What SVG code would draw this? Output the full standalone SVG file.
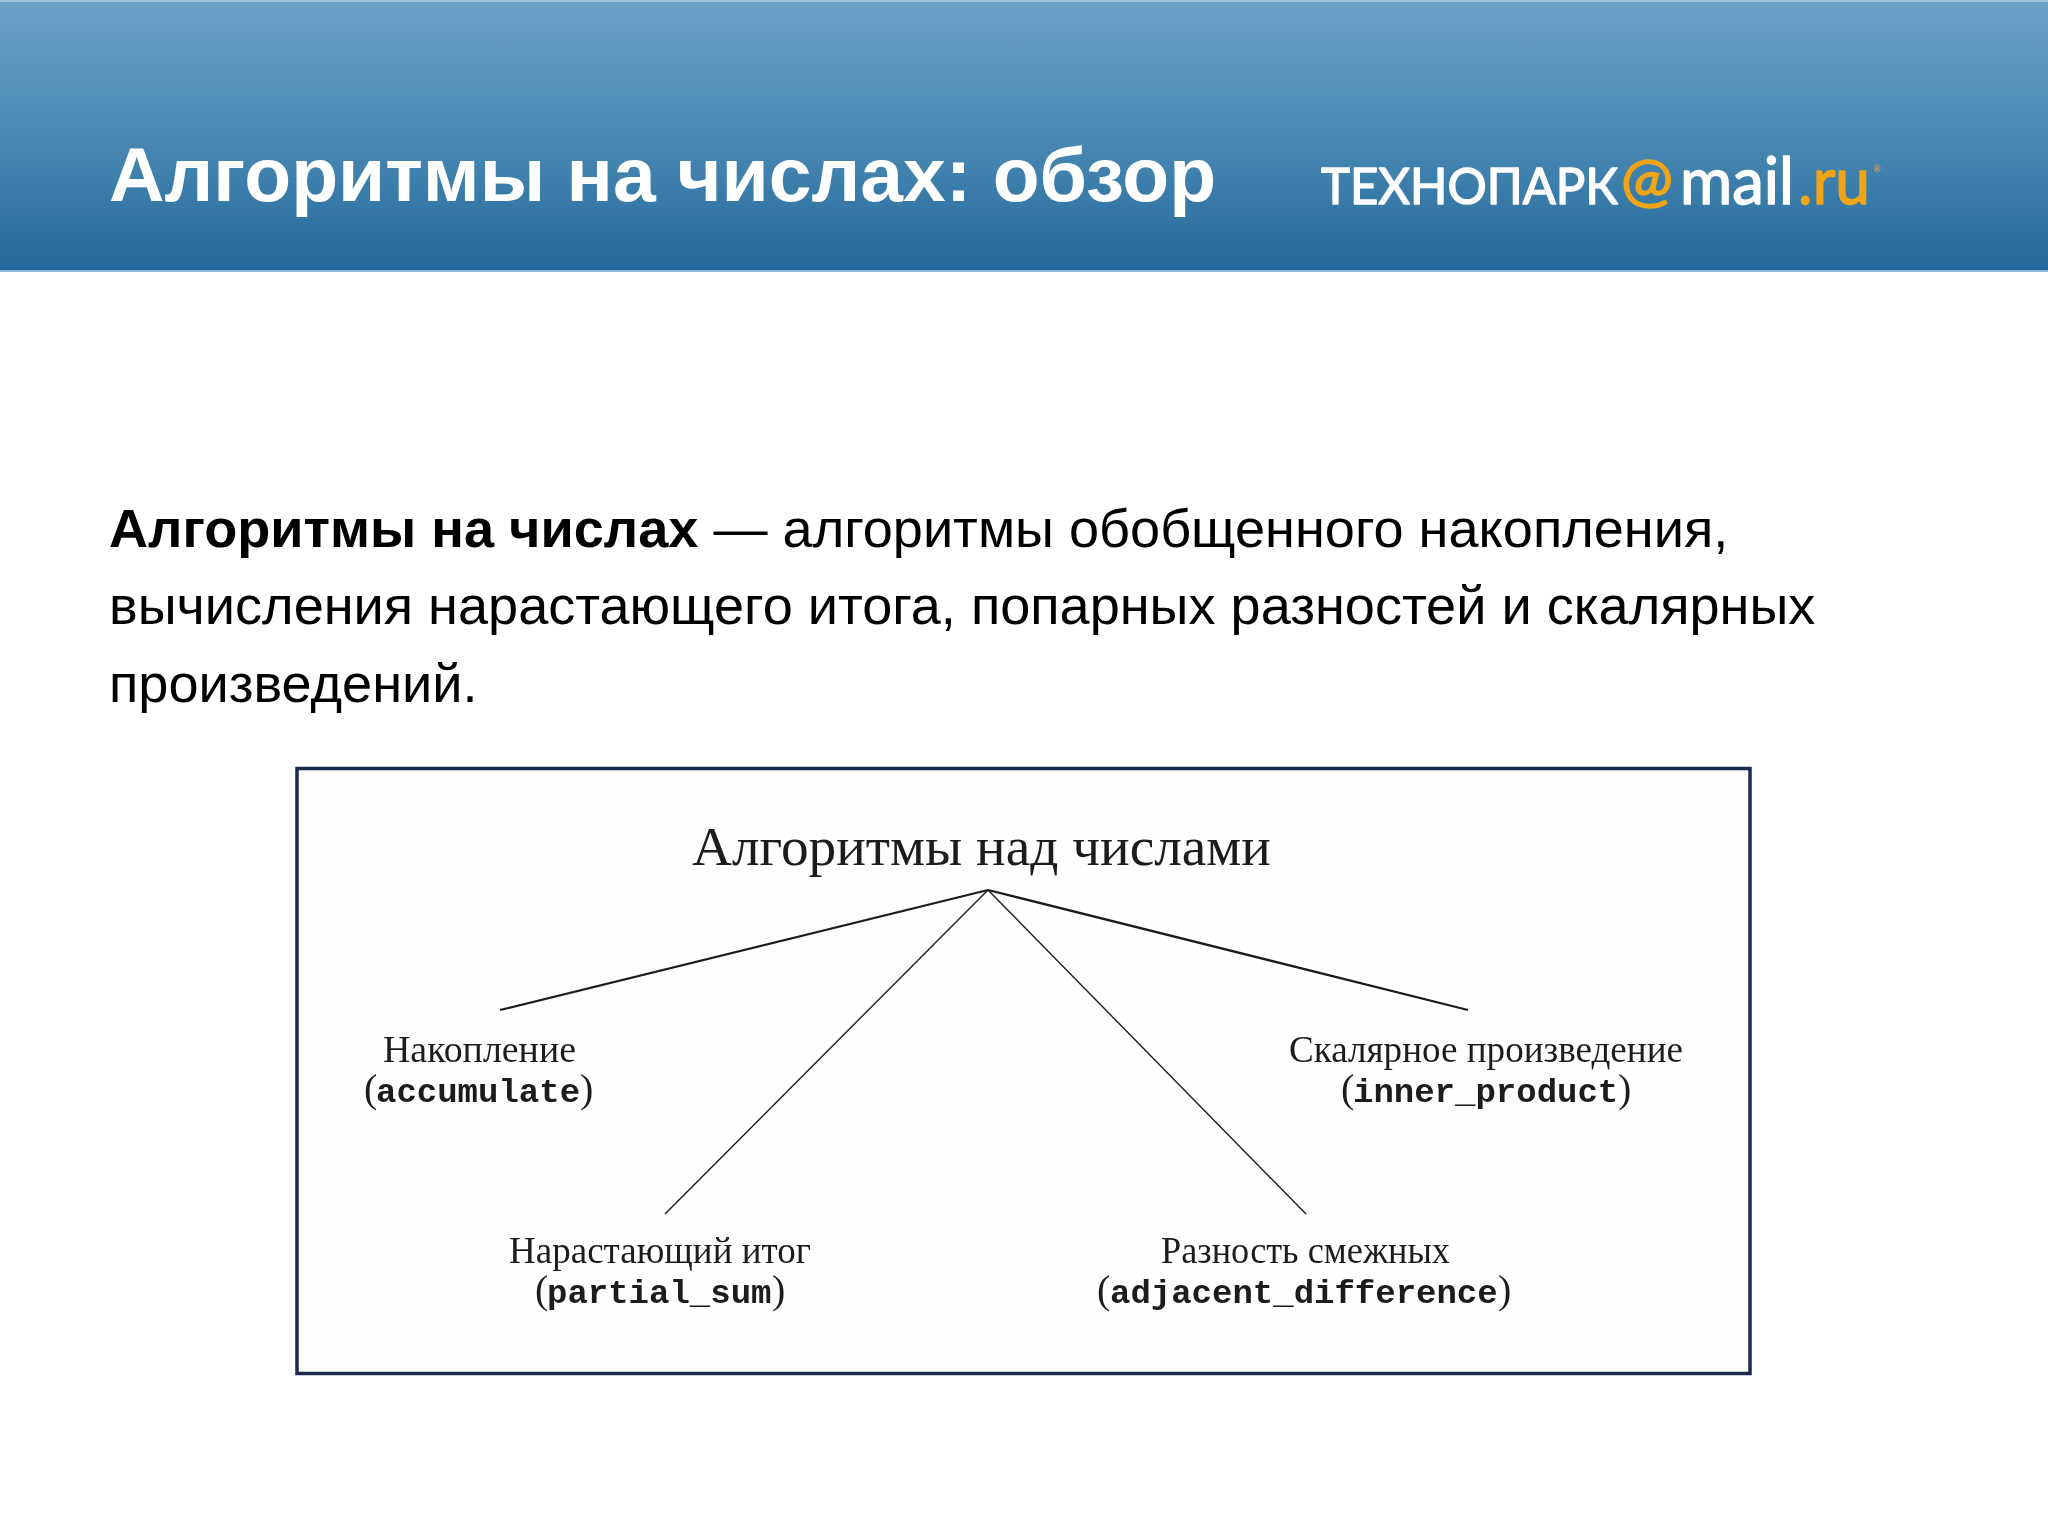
<svg xmlns="http://www.w3.org/2000/svg" width="2048" height="1536" viewBox="0 0 2048 1536">
<defs>
<linearGradient id="hdr" x1="0" y1="0" x2="0" y2="1"><stop offset="0" stop-color="#6da0c8"/><stop offset="0.5" stop-color="#4a89b3"/><stop offset="1" stop-color="#23699b"/></linearGradient>
<filter id="soft" x="-5%" y="-20%" width="110%" height="140%"><feGaussianBlur stdDeviation="0.6"/></filter>
</defs>
<style>
.sans{font-family:"Liberation Sans",Arial,sans-serif}
.title{font-size:76.800px;font-weight:700;fill:#fff}
.body{font-size:54.100px;fill:#000}
.logo{font-family:"Lato","Open Sans",sans-serif;font-weight:400;fill:#fff;stroke:#fff;stroke-width:1.500;stroke-linejoin:round}
.logo.or{fill:#f0a417;stroke:#f0a417}
.h{font-family:"Liberation Serif",serif;fill:#1c1c1c}
.lbl{font-size:38px}
.par{font-size:40px}
.mono{font-family:"Liberation Mono",monospace;font-weight:700;font-size:34px;fill:#1c1c1c}
.c{fill:none;stroke:#1c1c1c}
</style>
<rect width="2048" height="1536" fill="#fff"/>
<g id="header">
<rect width="2048" height="272" fill="url(#hdr)"/>
<rect width="2048" height="2" fill="#9cc0da"/>
<rect y="270" width="2048" height="2" fill="#8fbcd8"/>
<text class="sans title" x="109" y="201">Алгоритмы на числах: обзор</text>
</g>
<g id="logo">
<text class="logo" x="1321" y="204" font-size="50" textLength="297" lengthAdjust="spacingAndGlyphs">ТЕХНОПАРК</text>
<text class="logo or" x="1621" y="201" font-size="60" textLength="52" lengthAdjust="spacingAndGlyphs">@</text>
<text class="logo" x="1680" y="204" font-size="66" textLength="114" lengthAdjust="spacingAndGlyphs">mail</text>
<text class="logo or" x="1798" y="204" font-size="66" textLength="72" lengthAdjust="spacingAndGlyphs">.ru</text>
<text class="logo or" x="1873" y="172" font-size="9" style="stroke:none">®</text>
</g>
<g id="intro" class="sans body">
<text x="109" y="547"><tspan font-weight="700">Алгоритмы на числах</tspan> — алгоритмы обобщенного накопления,</text>
<text x="109" y="624">вычисления нарастающего итога, попарных разностей и скалярных</text>
<text x="109" y="702">произведений.</text>
</g>
<g id="figure">
<rect x="297" y="768.500" width="1453" height="605" fill="#fdfefd" stroke="#1b2b4f" stroke-width="3.500"/>
</g>
<g id="connectors" filter="url(#soft)">
<line class="c" x1="988" y1="890" x2="500" y2="1010" stroke-width="2.200"/>
<line class="c" x1="988" y1="890" x2="1468" y2="1010" stroke-width="2.200"/>
<line class="c" x1="988" y1="890" x2="665" y2="1214" stroke-width="1.400"/>
<line class="c" x1="988" y1="890" x2="1306" y2="1214" stroke-width="1.400"/>
</g>
<g id="root" filter="url(#soft)"><text class="h" x="692" y="865" font-size="54" textLength="579" lengthAdjust="spacingAndGlyphs">Алгоритмы над числами</text></g>
<g id="accumulate" filter="url(#soft)">
<text class="h lbl" x="383" y="1062" textLength="193" lengthAdjust="spacingAndGlyphs">Накопление</text>
<text class="h par" x="364" y="1102">(</text>
<text class="mono" x="376" y="1102">accumulate</text>
<text class="h par" x="580" y="1102">)</text>
</g>
<g id="partial_sum" filter="url(#soft)">
<text class="h lbl" x="509" y="1263" textLength="302" lengthAdjust="spacingAndGlyphs">Нарастающий итог</text>
<text class="h par" x="535" y="1303">(</text>
<text class="mono" x="547" y="1303">partial_sum</text>
<text class="h par" x="772" y="1303">)</text>
</g>
<g id="adjacent_difference" filter="url(#soft)">
<text class="h lbl" x="1161" y="1263" textLength="289" lengthAdjust="spacingAndGlyphs">Разность смежных</text>
<text class="h par" x="1097" y="1303">(</text>
<text class="mono" x="1110" y="1303">adjacent_difference</text>
<text class="h par" x="1498" y="1303">)</text>
</g>
<g id="inner_product" filter="url(#soft)">
<text class="h lbl" x="1289" y="1062" textLength="394" lengthAdjust="spacingAndGlyphs">Скалярное произведение</text>
<text class="h par" x="1341" y="1102">(</text>
<text class="mono" x="1353" y="1102">inner_product</text>
<text class="h par" x="1618" y="1102">)</text>
</g>
</svg>
